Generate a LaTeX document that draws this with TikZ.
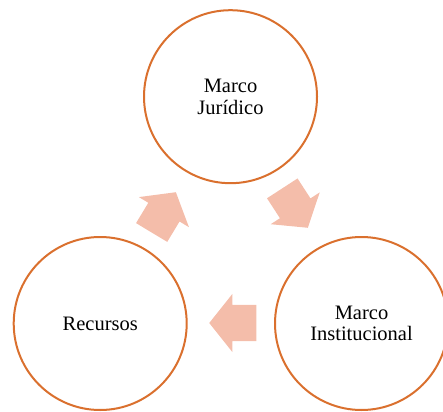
\documentclass[tikz,border=0pt]{standalone}
\usepackage{fontspec}
\setmainfont{Liberation Serif}
\usetikzlibrary{positioning}
\usetikzlibrary{shapes.arrows}

\definecolor{ringorange}{RGB}{218,112,46}
\definecolor{arrowpink}{RGB}{244,189,170}

\tikzset{
ring/.style={circle,draw=ringorange,line width=2pt,minimum size=173pt,inner sep=0pt,align=center,font=\fontsize{20.5}{21.7}\selectfont},
blockarrow/.style={single arrow,fill=arrowpink,draw=none,minimum height=47pt,single arrow head extend=11pt,single arrow tip angle=103,inner xsep=0pt,inner ysep=18pt,anchor=tip}
}

\begin{document}
\begin{tikzpicture}[x=1pt,y=-1pt]
\useasboundingbox (0,0) rectangle (443,411);
\node[ring](juridico) at (230.5,96.7){Marco\\Jurídico};
\node[ring](institucional) at (361.5,323.5){Marco\\Institucional};
\node[ring](recursos) at (100.2,323.5){Recursos};

\node[blockarrow,rotate=-57](arrowJI) at (308,228){};
\node[blockarrow,rotate=180](arrowIR) at (209,323){};
\node[blockarrow,rotate=59](arrowRJ) at (176,192){};
\end{tikzpicture}
\end{document}
